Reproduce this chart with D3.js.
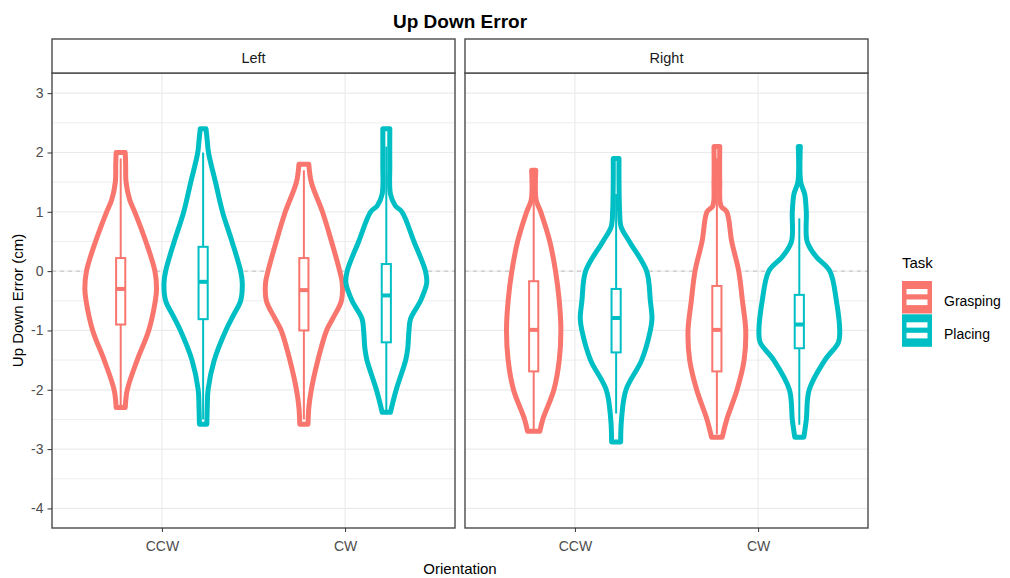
<!DOCTYPE html>
<html>
<head>
<meta charset="utf-8">
<script src="https://cdn.jsdelivr.net/npm/d3@7"></script>
<style>
body { margin: 0; background: #fff; }
svg { font-family: "Liberation Sans", Arial, sans-serif; }
</style>
</head>
<body>
<div class="chart"></div>
<script>
const panels = ["Left", "Right"];
const orientations = ["CCW", "CW"];
const tasks = ["Grasping", "Placing"];
const yTicks = [-4, -3, -2, -1, 0, 1, 2, 3];
const yMinorTicks = [-3.5, -2.5, -1.5, -0.5, 0.5, 1.5, 2.5];

// violin outlines: [error (cm), relative density]
const leftCcwGrasping = [[2.0, 0.11], [1.8, 0.12], [1.5, 0.13], [1.2, 0.22], [1.0, 0.34], [0.5, 0.61], [0, 0.83],
    [-0.3, 0.87], [-0.5, 0.84], [-1.0, 0.68], [-1.5, 0.40], [-2.0, 0.16], [-2.3, 0.11]];
const leftCcwPlacing = [[2.4, 0.07], [2.2, 0.10], [2.0, 0.13], [1.5, 0.30], [1.0, 0.47], [0.5, 0.70], [0, 0.91],
    [-0.2, 0.95], [-0.5, 0.91], [-0.75, 0.73], [-1.0, 0.55], [-1.5, 0.27], [-2.0, 0.12], [-2.3, 0.10], [-2.58, 0.09]];
const leftCwGrasping = [[1.8, 0.12], [1.5, 0.18], [1.0, 0.45], [0.5, 0.67], [0, 0.87], [-0.2, 0.93], [-0.5, 0.91],
    [-0.8, 0.70], [-1.0, 0.55], [-1.5, 0.34], [-2.0, 0.18], [-2.3, 0.12], [-2.58, 0.10]];
const leftCwPlacing = [[2.4, 0.085], [1.8, 0.085], [1.3, 0.10], [1.1, 0.22], [1.0, 0.38], [0.5, 0.67], [0, 0.95],
    [-0.2, 0.98], [-0.5, 0.83], [-0.8, 0.59], [-1.0, 0.55], [-1.3, 0.52], [-1.5, 0.47], [-2.0, 0.24], [-2.38, 0.10]];
const rightCcwGrasping = [[1.7, 0.05], [1.2, 0.06], [1.0, 0.17], [0.5, 0.39], [0, 0.53], [-0.5, 0.62], [-1.0, 0.66],
    [-1.5, 0.62], [-2.0, 0.49], [-2.5, 0.22], [-2.7, 0.15]];
const rightCcwPlacing = [[1.9, 0.07], [1.5, 0.07], [1.0, 0.085], [0.75, 0.12], [0.5, 0.32], [0, 0.74], [-0.5, 0.83],
    [-0.8, 0.87], [-1.0, 0.83], [-1.5, 0.62], [-2.0, 0.24], [-2.5, 0.13], [-2.88, 0.11]];
const rightCwGrasping = [[2.1, 0.07], [1.5, 0.07], [1.1, 0.10], [1.0, 0.24], [0.5, 0.36], [0, 0.53], [-0.5, 0.62],
    [-1.0, 0.70], [-1.5, 0.66], [-2.0, 0.49], [-2.5, 0.24], [-2.8, 0.13]];
const rightCwPlacing = [[2.1, 0.025], [1.5, 0.035], [1.3, 0.13], [1.0, 0.17], [0.5, 0.19], [0.25, 0.40], [0, 0.74],
    [-0.5, 0.90], [-1.0, 0.98], [-1.2, 0.95], [-1.5, 0.62], [-2.0, 0.24], [-2.5, 0.17], [-2.8, 0.11]];

const violins = [
    { panel: "Left", orientation: "CCW", task: "Grasping", profile: leftCcwGrasping },
    { panel: "Left", orientation: "CCW", task: "Placing", profile: leftCcwPlacing },
    { panel: "Left", orientation: "CW", task: "Grasping", profile: leftCwGrasping },
    { panel: "Left", orientation: "CW", task: "Placing", profile: leftCwPlacing },
    { panel: "Right", orientation: "CCW", task: "Grasping", profile: rightCcwGrasping },
    { panel: "Right", orientation: "CCW", task: "Placing", profile: rightCcwPlacing },
    { panel: "Right", orientation: "CW", task: "Grasping", profile: rightCwGrasping },
    { panel: "Right", orientation: "CW", task: "Placing", profile: rightCwPlacing }
];

// panel, orientation, task, lower whisker, q1, median, q3, upper whisker
const boxStats = [
    ["Left", "CCW", "Grasping", -2.3, -0.9, -0.3, 0.22, 1.9],
    ["Left", "CCW", "Placing", -2.5, -0.81, -0.18, 0.41, 2.0],
    ["Left", "CW", "Grasping", -2.5, -1.0, -0.32, 0.22, 1.7],
    ["Left", "CW", "Placing", -2.38, -1.2, -0.41, 0.12, 2.1],
    ["Right", "CCW", "Grasping", -2.67, -1.69, -0.99, -0.17, 1.65],
    ["Right", "CCW", "Placing", -2.4, -1.37, -0.79, -0.3, 1.3],
    ["Right", "CW", "Grasping", -2.75, -1.69, -0.99, -0.25, 1.9],
    ["Right", "CW", "Placing", -2.59, -1.3, -0.9, -0.4, 0.89]
];

const width = 1010;
const height = 578;
const panelTop = 73;
const panelBottom = 528;
const stripTop = 39;
const panelX = { Left: [52, 455], Right: [465, 868] };

const color = d3.scaleOrdinal(tasks, ["#F8766D", "#00BFC4"]);

const y = d3.scaleLinear()
    .domain([-4.33, 3.34])
    .range([panelBottom, panelTop]);

const svg = d3.select(".chart")
    .append("svg")
    .attr("width", width)
    .attr("height", height);

// title
svg.append("text")
    .attr("x", 460)
    .attr("y", 28)
    .attr("text-anchor", "middle")
    .style("font-size", "19px")
    .style("font-weight", "bold")
    .text("Up Down Error");

panels.forEach(panel => {
    const [x0, x1] = panelX[panel];
    const x = d3.scalePoint()
        .domain(orientations)
        .range([x0, x1])
        .padding(0.6);
    const step = x.step();
    const dodge = d3.scalePoint().domain(tasks).range([-0.225 * step, 0.225 * step]);

    const g = svg.append("g");

    // grid
    g.selectAll("line.minor")
        .data(yMinorTicks)
        .enter()
        .append("line")
        .attr("x1", x0).attr("x2", x1)
        .attr("y1", d => y(d)).attr("y2", d => y(d))
        .attr("stroke", "#ebebeb")
        .attr("stroke-width", 0.9);
    g.selectAll("line.major")
        .data(yTicks)
        .enter()
        .append("line")
        .attr("x1", x0).attr("x2", x1)
        .attr("y1", d => y(d)).attr("y2", d => y(d))
        .attr("stroke", "#ebebeb")
        .attr("stroke-width", 1.2);
    g.selectAll("line.vgrid")
        .data(orientations)
        .enter()
        .append("line")
        .attr("x1", d => x(d)).attr("x2", d => x(d))
        .attr("y1", panelTop).attr("y2", panelBottom)
        .attr("stroke", "#ebebeb")
        .attr("stroke-width", 1.2);

    // reference line at zero
    g.append("line")
        .attr("x1", x0).attr("x2", x1)
        .attr("y1", y(0)).attr("y2", y(0))
        .attr("stroke", "#bebebe")
        .attr("stroke-width", 1)
        .attr("stroke-dasharray", "4,4");

    // violins
    g.selectAll("path.violin")
        .data(violins.filter(v => v.panel === panel))
        .enter()
        .append("path")
        .attr("class", "violin")
        .attr("d", v => {
            const cx = x(v.orientation) + dodge(v.task);
            return d3.area()
                .y(d => y(d[0]))
                .x0(d => cx - d[1] * 0.225 * step)
                .x1(d => cx + d[1] * 0.225 * step)
                .curve(d3.curveCatmullRom.alpha(0.5))(v.profile);
        })
        .attr("fill", "white")
        .attr("stroke", v => color(v.task))
        .attr("stroke-width", 5)
        .attr("stroke-linejoin", "round");

    // boxplots
    const boxW = 0.05 * step;
    const boxes = g.selectAll("g.box")
        .data(boxStats.filter(b => b[0] === panel))
        .enter()
        .append("g")
        .attr("class", "box")
        .attr("transform", b => `translate(${x(b[1]) + dodge(b[2])},0)`)
        .attr("stroke", b => color(b[2]));
    boxes.append("line")
        .attr("y1", b => y(b[7])).attr("y2", b => y(b[6]))
        .attr("stroke-width", 2);
    boxes.append("line")
        .attr("y1", b => y(b[4])).attr("y2", b => y(b[3]))
        .attr("stroke-width", 2);
    boxes.append("rect")
        .attr("x", -boxW / 2)
        .attr("width", boxW)
        .attr("y", b => y(b[6]))
        .attr("height", b => y(b[4]) - y(b[6]))
        .attr("fill", "white")
        .attr("stroke-width", 2);
    boxes.append("line")
        .attr("x1", -boxW / 2).attr("x2", boxW / 2)
        .attr("y1", b => y(b[5])).attr("y2", b => y(b[5]))
        .attr("stroke-width", 4);

    // panel border and strip
    g.append("rect")
        .attr("x", x0).attr("y", panelTop)
        .attr("width", x1 - x0).attr("height", panelBottom - panelTop)
        .attr("fill", "none")
        .attr("stroke", "#4a4a4a")
        .attr("stroke-width", 1.4);
    g.append("rect")
        .attr("x", x0).attr("y", stripTop)
        .attr("width", x1 - x0).attr("height", panelTop - stripTop)
        .attr("fill", "white")
        .attr("stroke", "#4a4a4a")
        .attr("stroke-width", 1.4);
    g.append("text")
        .attr("x", (x0 + x1) / 2)
        .attr("y", 63)
        .attr("text-anchor", "middle")
        .attr("fill", "#1a1a1a")
        .style("font-size", "14.5px")
        .text(panel);

    // x axis
    const xAxis = g.append("g")
        .attr("transform", `translate(0,${panelBottom})`)
        .call(d3.axisBottom(x).tickSize(4).tickPadding(9.5));
    xAxis.select(".domain").remove();
    xAxis.selectAll(".tick line").attr("stroke", "#333");
    xAxis.selectAll(".tick text")
        .attr("fill", "#4d4d4d")
        .style("font-size", "14px")
        .style("font-family", "Liberation Sans, Arial, sans-serif");

    if (panel === "Left") {
        const yAxis = g.append("g")
            .attr("transform", `translate(${x0},0)`)
            .call(d3.axisLeft(y).tickValues(yTicks).tickFormat(d => String(d)).tickSize(4.5).tickPadding(4));
        yAxis.select(".domain").remove();
        yAxis.selectAll(".tick line").attr("stroke", "#333");
        yAxis.selectAll(".tick text")
            .attr("fill", "#4d4d4d")
            .style("font-size", "14px")
            .style("font-family", "Liberation Sans, Arial, sans-serif");
    }
});

// axis titles
svg.append("text")
    .attr("x", 460)
    .attr("y", 574)
    .attr("text-anchor", "middle")
    .style("font-size", "15px")
    .text("Orientation");

svg.append("text")
    .attr("transform", `translate(23,${(panelTop + panelBottom) / 2}) rotate(-90)`)
    .attr("text-anchor", "middle")
    .style("font-size", "15px")
    .text("Up Down Error (cm)");

// legend
const legend = svg.append("g").attr("transform", "translate(902,0)");
legend.append("text")
    .attr("x", 0)
    .attr("y", 268)
    .style("font-size", "15px")
    .text("Task");

const keys = legend.selectAll("g.key")
    .data(tasks)
    .enter()
    .append("g")
    .attr("class", "key")
    .attr("transform", (d, i) => `translate(0,${281 + i * 33.3})`);
keys.append("rect")
    .attr("width", 30).attr("height", 32.5)
    .attr("fill", d => color(d));
keys.append("rect")
    .attr("x", 4.5).attr("y", 8).attr("width", 21).attr("height", 5.3)
    .attr("fill", "white");
keys.append("rect")
    .attr("x", 4.5).attr("y", 18.5).attr("width", 21).attr("height", 5.6)
    .attr("fill", "white");
keys.append("text")
    .attr("x", 42)
    .attr("y", 24.5)
    .style("font-size", "14px")
    .text(d => d);
</script>
</body>
</html>
